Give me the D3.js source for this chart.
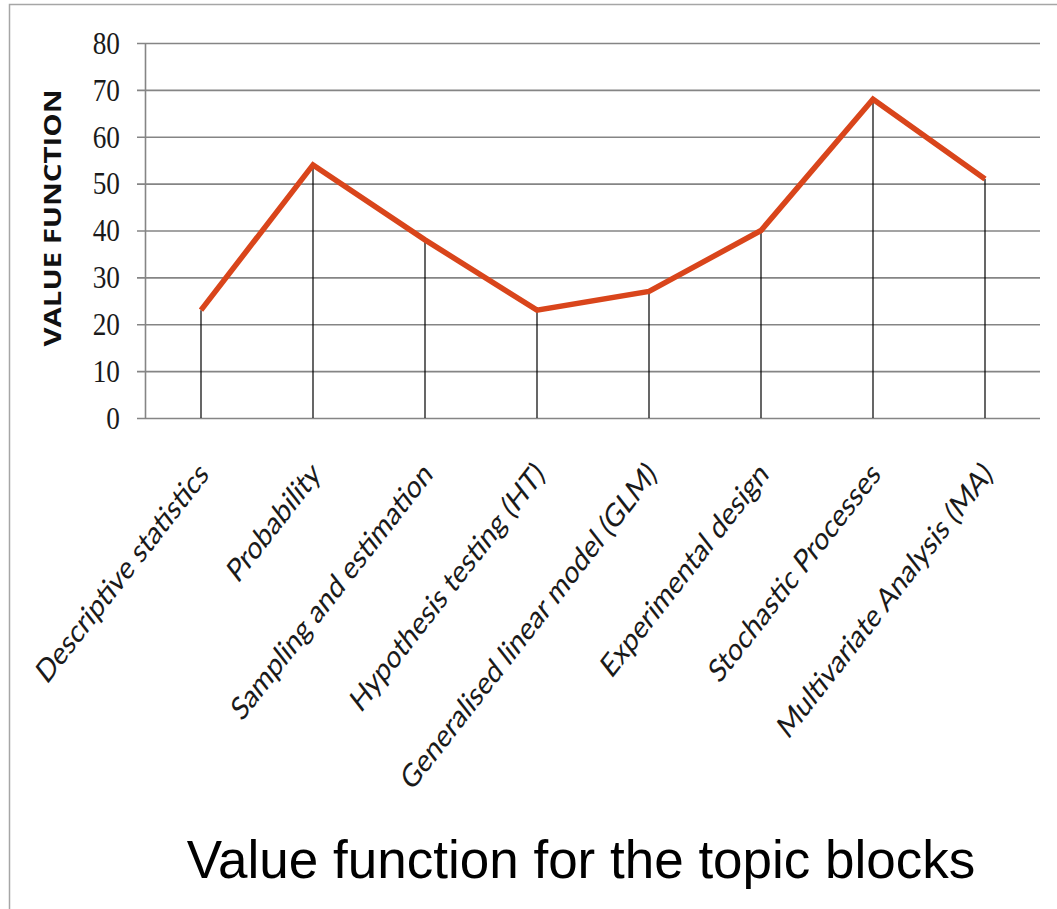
<!DOCTYPE html>
<html>
<head>
<meta charset="utf-8">
<script src="https://cdn.jsdelivr.net/npm/d3@7"></script>
<style>
  html, body { margin: 0; padding: 0; background: #fff; }
  svg { display: block; }
</style>
</head>
<body>
<svg id="chart" width="1057" height="909"></svg>
<script>
const categories = [
  "Descriptive statistics",
  "Probability",
  "Sampling and estimation",
  "Hypothesis testing (HT)",
  "Generalised linear model (GLM)",
  "Experimental design",
  "Stochastic Processes",
  "Multivariate Analysis (MA)"
];
const values = [23, 54, 38, 23, 27, 40, 68, 51];
const yTicks = [0, 10, 20, 30, 40, 50, 60, 70, 80];
const yTitle = "VALUE FUNCTION";
const chartTitle = "Value function for the topic blocks";

const svg = d3.select("#chart");
const W = 1057, H = 909;
const plot = { left: 145, right: 1041, top: 43, bottom: 418 };
const squash = 0.88;
const labelSquash = 0.78;

// frame
svg.append("path")
  .attr("d", `M9.5,${H} L9.5,4.5 L${W},4.5`)
  .attr("fill", "none").attr("stroke", "#a6a6a6").attr("stroke-width", 1.5);

const x = d3.scalePoint().domain(categories).range([plot.left, plot.right]).padding(0.5);
const y = d3.scaleLinear().domain([0, 80]).range([plot.bottom, plot.top]);

// gridlines + tick marks
const yAxis = d3.axisLeft(y).tickValues(yTicks).tickSize(-(plot.right - 1 - plot.left)).tickSizeOuter(0).tickFormat("");
const gy = svg.append("g").attr("transform", `translate(${plot.left},0)`).call(yAxis);
gy.select(".domain").attr("stroke", "#858585").attr("stroke-width", 1.6);
gy.selectAll(".tick line").attr("stroke", "#858585").attr("stroke-width", 1.7).attr("x1", -8);

// y tick labels
svg.append("g").selectAll("text").data(yTicks).join("text")
  .attr("transform", d => `translate(120,${y(d)}) scale(${squash},1)`)
  .attr("dy", "0.35em")
  .attr("text-anchor", "end")
  .attr("font-family", "Liberation Serif, serif")
  .attr("font-size", 31)
  .attr("fill", "#1a1a1a")
  .text(d => d);

// y title
svg.append("text")
  .attr("transform", `translate(61,218) scale(${squash},1) rotate(-90)`)
  .attr("text-anchor", "middle")
  .attr("font-family", "Open Sans, sans-serif")
  .attr("font-weight", "bold")
  .attr("font-size", 26)
  .attr("textLength", 257)
  .attr("lengthAdjust", "spacingAndGlyphs")
  .attr("fill", "#111")
  .text(yTitle);

// drop lines
svg.append("g").selectAll("line").data(categories).join("line")
  .attr("x1", d => x(d)).attr("x2", d => x(d))
  .attr("y1", (d, i) => y(values[i])).attr("y2", y(0))
  .attr("stroke", "#000").attr("stroke-width", 1.2);

// series line
const line = d3.line().x((d, i) => x(categories[i])).y(d => y(d));
svg.append("path")
  .datum(values)
  .attr("d", line)
  .attr("fill", "none")
  .attr("stroke", "#d9451b")
  .attr("stroke-width", 5.5)
  .attr("stroke-linejoin", "miter");

// category labels
svg.append("g").selectAll("text").data(categories).join("text")
  .attr("transform", d => `translate(${x(d) + 9},476) scale(${labelSquash},1) rotate(-45)`)
  .attr("text-anchor", "end")
  .attr("font-family", "Lato, sans-serif")
  .attr("font-size", 32.5)
  .attr("fill", "#1a1a1a")
  .text(d => d);

// bottom title
svg.append("text")
  .attr("x", 581).attr("y", 878)
  .attr("text-anchor", "middle")
  .attr("font-family", "Liberation Sans, Arial, sans-serif")
  .attr("font-size", 53)
  .attr("fill", "#000")
  .text(chartTitle);
</script>
</body>
</html>
